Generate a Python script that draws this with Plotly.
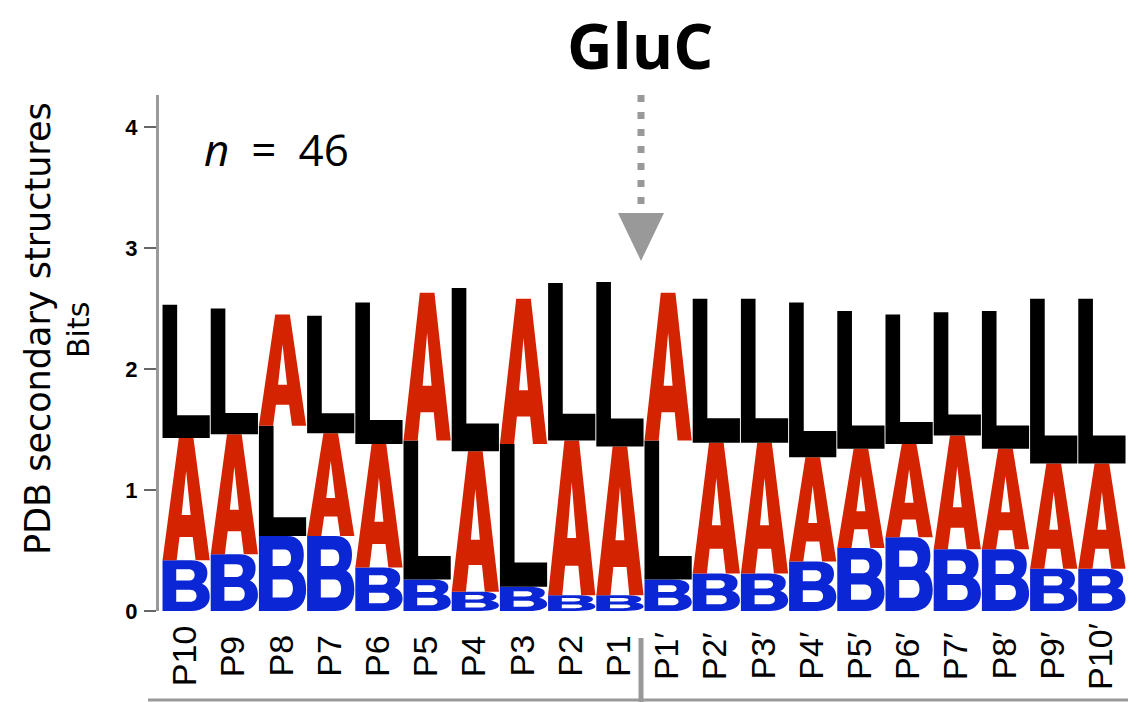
import plotly.graph_objects as go

# ---------------- data ----------------
positions = ["P10", "P9", "P8", "P7", "P6", "P5", "P4", "P3", "P2", "P1",
             "P1′", "P2′", "P3′", "P4′", "P5′", "P6′", "P7′", "P8′", "P9′", "P10′"]
bits_B = [0.42, 0.47, 0.62, 0.62, 0.36, 0.26, 0.16, 0.20, 0.13, 0.13,
          0.26, 0.31, 0.31, 0.41, 0.52, 0.61, 0.51, 0.51, 0.35, 0.35]
bits_A = [1.01, 0.99, 0.92, 0.85, 1.02, 1.22, 1.16, 1.20, 1.28, 1.23,
          1.22, 1.08, 1.08, 0.86, 0.82, 0.77, 0.94, 0.83, 0.87, 0.87]
bits_L = [1.10, 1.04, 0.91, 0.97, 1.17, 1.15, 1.35, 1.18, 1.30, 1.36,
          1.15, 1.19, 1.19, 1.28, 1.14, 1.07, 1.02, 1.14, 1.36, 1.36]
letters = ["B", "A", "L"]
letter_colors = {"B": "#0B26D4", "A": "#D42300", "L": "#000000"}
y_ticks = [0, 1, 2, 3, 4]
title_text = "GluC"
n_text = "<i>n</i>\u2002=\u200246"
ylabel_1 = "PDB secondary structures"
ylabel_2 = "Bits"

# ---------------- glyph outlines (unit box, y up) ----------------
GLYPHS = {
    "L": [[("M", (0, 0)), ("L", (1, 0)), ("L", (1, 0.17)), ("L", (0.31, 0.17)),
           ("L", (0.31, 1)), ("L", (0, 1)), ("Z",)]],
    "A": [[("M", (0, 0)), ("L", (0.30, 0)), ("L", (0.36, 0.19)), ("L", (0.64, 0.19)),
           ("L", (0.70, 0)), ("L", (1, 0)), ("L", (0.655, 1)), ("L", (0.345, 1)), ("Z",)],
          [("M", (0.405, 0.37)), ("L", (0.595, 0.37)), ("L", (0.5, 0.73)), ("Z",)]],
    "B": [[("M", (0, 0)), ("L", (0.60, 0)),
           ("C", (0.86, 0), (1.0, 0.12), (1.0, 0.28)),
           ("C", (1.0, 0.42), (0.93, 0.50), (0.83, 0.535)),
           ("C", (0.91, 0.57), (0.95, 0.65), (0.95, 0.76)),
           ("C", (0.95, 0.90), (0.84, 1.0), (0.60, 1.0)),
           ("L", (0, 1)), ("Z",)],
          [("M", (0.29, 0.60)), ("L", (0.55, 0.60)),
           ("C", (0.64, 0.60), (0.68, 0.65), (0.68, 0.71)),
           ("C", (0.68, 0.77), (0.64, 0.82), (0.55, 0.82)),
           ("L", (0.29, 0.82)), ("Z",)],
          [("M", (0.29, 0.18)), ("L", (0.58, 0.18)),
           ("C", (0.68, 0.18), (0.72, 0.24), (0.72, 0.30)),
           ("C", (0.72, 0.36), (0.68, 0.42), (0.58, 0.42)),
           ("L", (0.29, 0.42)), ("Z",)]],
}


def glyph_path(letter, x0, y0, w, h):
    parts = []
    for sub in GLYPHS[letter]:
        for cmd in sub:
            if cmd[0] == "Z":
                parts.append("Z")
            else:
                pts = " ".join(f"{x0 + u * w:.5f},{y0 + v * h:.5f}" for (u, v) in cmd[1:])
                parts.append(f"{cmd[0]} {pts}")
    return " ".join(parts)


# ---------------- layout geometry ----------------
W, H = 1131, 702
ML, MR, MT, MB = 159, 5, 95, 91
PW, PH = W - ML - MR, H - MT - MB
x_range = [0.437, 20.5]
y_range = [0, 4.2645]


def px2paper_x(px):
    return (px - ML) / PW


def px2paper_y(py):
    return (H - MB - py) / PH


def px2data_x(px):
    return x_range[0] + (px - ML) / PW * (x_range[1] - x_range[0])


def py2data_y(py):
    return y_range[0] + (H - MB - py) / PH * (y_range[1] - y_range[0])


fig = go.Figure()
xs = list(range(1, len(positions) + 1))
totals = [b + a + l for b, a, l in zip(bits_B, bits_A, bits_L)]
fig.add_trace(go.Scatter(x=xs, y=totals, mode="markers", marker=dict(opacity=0),
                         hoverinfo="skip", showlegend=False))

shapes = []
col_w = 0.98
series = {"B": bits_B, "A": bits_A, "L": bits_L}
for i, pos in enumerate(positions):
    stack = sorted(letters, key=lambda k: series[k][i])
    y0 = 0.0
    for k in stack:
        h = series[k][i]
        shapes.append(dict(type="path", xref="x", yref="y",
                           path=glyph_path(k, xs[i] - col_w / 2, y0, col_w, h),
                           fillcolor=letter_colors[k], fillrule="evenodd",
                           line=dict(width=0), layer="above"))
        y0 += h

# cleavage arrow (dotted line + triangle)
arrow_x = px2data_x(641)
shapes.append(dict(type="line", xref="x", yref="y", x0=arrow_x, x1=arrow_x,
                   y0=py2data_y(95), y1=py2data_y(204),
                   line=dict(color="#999999", width=7, dash="7px,10px")))
tri_top, tri_tip = py2data_y(213), py2data_y(261)
half = 23 / PW * (x_range[1] - x_range[0])
shapes.append(dict(type="path", xref="x", yref="y",
                   path=f"M {arrow_x - half},{tri_top} L {arrow_x + half},{tri_top} L {arrow_x},{tri_tip} Z",
                   fillcolor="#999999", line=dict(width=0)))
# separator below axis and bottom line
shapes.append(dict(type="line", xref="x", yref="paper", x0=arrow_x, x1=arrow_x,
                   y0=px2paper_y(638), y1=px2paper_y(702),
                   line=dict(color="#999999", width=5)))
shapes.append(dict(type="line", xref="paper", yref="paper", x0=px2paper_x(148), x1=px2paper_x(1128),
                   y0=px2paper_y(700), y1=px2paper_y(700),
                   line=dict(color="#999999", width=3)))

annotations = []
for i, pos in enumerate(positions):
    annotations.append(dict(x=xs[i], y=px2paper_y(656), xref="x", yref="paper", text=pos,
                            textangle=-90, showarrow=False, xanchor="center", yanchor="middle",
                            xshift=-2,
                            font=dict(family="Liberation Sans, Arial", size=34, color="black")))
annotations.append(dict(x=px2paper_x(38), y=px2paper_y(329), xref="paper", yref="paper",
                        text=ylabel_1, textangle=-90, showarrow=False,
                        xanchor="center", yanchor="middle",
                        font=dict(family="DejaVu Sans", size=35, color="black")))
annotations.append(dict(x=px2paper_x(78), y=px2paper_y(330), xref="paper", yref="paper",
                        text=ylabel_2, textangle=-90, showarrow=False,
                        xanchor="center", yanchor="middle",
                        font=dict(family="DejaVu Sans", size=30, color="black")))
annotations.append(dict(x=px2paper_x(640), y=px2paper_y(44), xref="paper", yref="paper",
                        text=f"<b>{title_text}</b>", showarrow=False,
                        xanchor="center", yanchor="middle",
                        font=dict(family="Open Sans", size=63, color="black")))
annotations.append(dict(x=px2paper_x(276), y=px2paper_y(149), xref="paper", yref="paper",
                        text=n_text, showarrow=False, xanchor="center", yanchor="middle",
                        font=dict(family="Open Sans", size=44, color="black")))

fig.update_layout(
    width=W, height=H,
    margin=dict(l=ML, r=MR, t=MT, b=MB),
    paper_bgcolor="white", plot_bgcolor="white",
    shapes=shapes, annotations=annotations, showlegend=False,
    xaxis=dict(range=x_range, showgrid=False, zeroline=False, showline=False,
               showticklabels=False, ticks=""),
    yaxis=dict(range=y_range, showgrid=False, zeroline=False, showline=True,
               linecolor="#9a9a9a", linewidth=3, ticks="outside", ticklen=12,
               tickcolor="#666666", tickwidth=1.5, tickvals=y_ticks,
               ticklabelstandoff=2,
               tickfont=dict(family="Liberation Sans, Arial", size=22, color="black", weight="bold")),
)

fig.write_html("out.html")
